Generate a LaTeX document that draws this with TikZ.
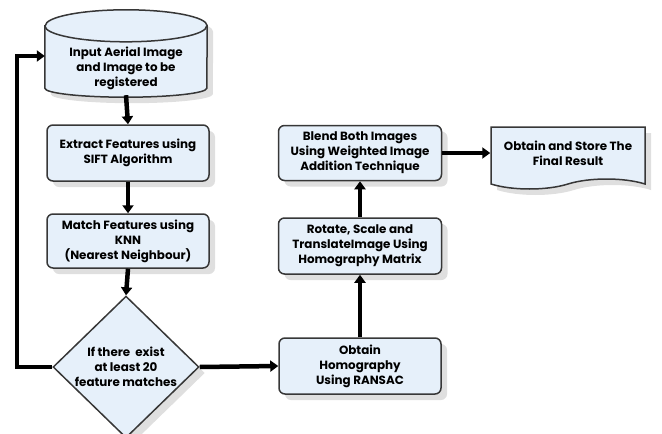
\documentclass[tikz,border=0pt]{standalone}
\usepackage{fontspec}
\setmainfont{Poppins}
\usepackage{tikz}
\usetikzlibrary{shapes.geometric, shapes.symbols, arrows.meta, positioning, calc, shadows, backgrounds}
\definecolor{boxfill}{RGB}{230,240,250}
\definecolor{boxline}{RGB}{55,55,55}
\tikzset{boxtext/.style={align=center,font=\bfseries\fontsize{11.9}{15}\selectfont},
         boxshadow/.style={drop shadow={shadow xshift=6pt,shadow yshift=-6pt,opacity=.25}},
         block/.style={rectangle,draw=boxline,line width=1.5pt,fill=boxfill,rounded corners=6pt,boxtext,
           minimum width=162pt,minimum height=56pt,inner sep=2pt,boxshadow},
         can/.style={draw=boxline,line width=1.5pt,fill=boxfill,boxshadow},
         decision/.style={block,diamond,rounded corners=0pt,minimum width=146pt,minimum height=134pt,inner sep=0pt},
         document/.style={block,tape,tape bend top=none,tape bend height=10pt,rounded corners=0pt,minimum width=154pt,minimum height=62pt},
         arrow/.style={-{Triangle[length=8pt,width=11pt]},line width=4.5pt}}
\begin{document}
\begin{tikzpicture}[x=1pt,y=-1pt]
    \useasboundingbox (0,0) rectangle (662,434);
    \node (inp) [boxtext,minimum width=162pt,minimum height=52pt,inner sep=0pt] at (126,68) {Input Aerial Image\\and Image to be\\registered};
    \begin{scope}[on background layer]
      \draw[can] ($(inp.north west)+(0,-16)$) -- ($(inp.south west)+(0,-6)$)
        arc[start angle=180,end angle=360,x radius=81pt,y radius=9pt]
        -- ($(inp.north east)+(0,-16)$)
        arc[start angle=0,end angle=180,x radius=81pt,y radius=16pt] -- cycle;
      \draw[draw=boxline,line width=1.5pt] ($(inp.north west)+(0,-16)$)
        arc[start angle=180,end angle=360,x radius=81pt,y radius=16pt];
    \end{scope}
    \node (ext) [block] at (128,153) {Extract Features using\\SIFT Algorithm};
    \node (mat) [block,minimum height=54pt] at (128,241) {Match Features using\\KNN\\(Nearest Neighbour)};
    \node (dec) [decision] at (126,367) {If there\ \ exist\\at least 20\\feature matches};
    \node (hom) [block] at (360,366) {Obtain\\Homography\\Using RANSAC};
    \node (rot) [block,minimum width=163pt] at (360,246) {Rotate, Scale and\\TranslateImage Using\\Homography Matrix};
    \node (bld) [block,minimum width=163pt,minimum height=55pt] at (360,153) {Blend Both Images\\Using Weighted Image\\Addition Technique};
    \node (res) [document] at (568,153) {Obtain and Store The\\Final Result};
    \coordinate (back) at (17,56);
    \draw[arrow] ($(inp.south)+(0,1)$) -- (ext.north);
    \draw[arrow] (ext.south) -- (mat.north);
    \draw[arrow] (mat.south) -- (dec.north);
    \draw[arrow] (dec.east) -- (hom.west);
    \draw[arrow] (hom.north) -- (rot.south);
    \draw[arrow] (rot.north) -- (bld.south);
    \draw[arrow] (bld.east) -- (res.west);
    % loop back to the input
    \draw[arrow] (dec.west) -| (back) -- (back -| inp.west);
  \end{tikzpicture}
\end{document}
